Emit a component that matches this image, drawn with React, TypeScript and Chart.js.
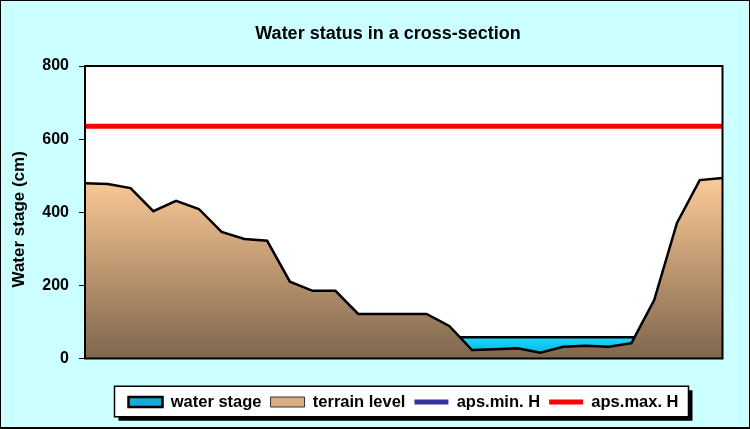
import React, { useEffect, useRef } from 'react';
import { Chart, registerables } from 'chart.js';

Chart.register(...registerables);

// ---- data ----
const stations = ['1', '2', '3', '4', '5', '6', '7', '8', '9', '10', '11', '12', '13', '14', '15',
  '16', '17', '18', '19', '20', '21', '22', '23', '24', '25', '26', '27', '28', '29'];
const terrainLevel = [479, 477, 466, 403, 431, 409, 346, 327, 322, 210, 185, 185, 122, 122, 122,
  122, 89, 23, 25, 28, 16, 32, 35, 32, 42, 160, 371, 488, 494];
const waterStage = [58, 58, 58, 58, 58, 58, 58, 58, 58, 58, 58, 58, 58, 58, 58,
  58, 58, 58, 58, 58, 58, 58, 58, 58, 58, 58, 58, 58, 58];
const apsMinH: (number | null)[] = [];
const apsMaxH = [635, 635, 635, 635, 635, 635, 635, 635, 635, 635, 635, 635, 635, 635, 635,
  635, 635, 635, 635, 635, 635, 635, 635, 635, 635, 635, 635, 635, 635];
const yTicks = [0, 200, 400, 600, 800];
const seriesLabels = ['water stage', 'terrain level', 'aps.min. H', 'aps.max. H'];
const chartTitle = 'Water status in a cross-section';
const yTitle = 'Water stage (cm)';

// ---- styles ----
const FONT = "Arial, 'Liberation Sans', Helvetica, sans-serif";
const legendFill = ['#1AA8D8', '#D9AE84', '#333399', '#FF0000'];
const legendStroke = ['#000000', '#333333', '#333399', '#FF0000'];
const legendLineWidth = [2.5, 1, 5, 5];
const legendPointStyle = ['rect', 'rect', 'line', 'line'];
const TITLE_CENTER = 388;
const LEGEND_CENTER = 403.5;

function gradientFill(chart: any, topValue: number, topColor: string, midColor: string, bottomColor: string) {
  const area = chart.chartArea;
  const ys = chart.scales && chart.scales.y;
  if (!area || !ys) return topColor;
  const g = chart.ctx.createLinearGradient(0, ys.getPixelForValue(topValue), 0, ys.getPixelForValue(0));
  g.addColorStop(0, topColor);
  g.addColorStop(0.45, midColor);
  g.addColorStop(1, bottomColor);
  return g;
}

const decor = {
  id: 'decor',
  beforeDraw(chart: any) {
    const { ctx, width, height, chartArea, legend, titleBlock } = chart;
    ctx.save();
    ctx.fillStyle = '#CCFFFF';
    ctx.fillRect(0, 0, width, height);
    ctx.fillStyle = '#FFFFFF';
    ctx.fillRect(chartArea.left, chartArea.top, chartArea.right - chartArea.left, chartArea.bottom - chartArea.top);
    if (titleBlock) {
      titleBlock.left = TITLE_CENTER - 370;
      titleBlock.right = TITLE_CENTER + 370;
      titleBlock.width = 740;
    }
    if (legend && legend.lineWidths) {
      const pad = legend.options.labels.padding;
      legend.left = LEGEND_CENTER - 360;
      legend.right = LEGEND_CENTER + 360;
      legend.width = 720;
      const rowW = legend.lineWidths[0] - pad;
      const x0 = LEGEND_CENTER - rowW / 2 - 14;
      const x1 = LEGEND_CENTER + rowW / 2 + 10;
      const y0 = legend.top + 1.5;
      const y1 = legend.bottom - 3.5;
      ctx.fillStyle = '#000000';
      ctx.fillRect(x0 + 4, y0 + 4, x1 - x0, y1 - y0);
      ctx.fillStyle = '#FFFFFF';
      ctx.fillRect(x0, y0, x1 - x0, y1 - y0);
      ctx.strokeStyle = '#000000';
      ctx.lineWidth = 1.5;
      ctx.strokeRect(x0, y0, x1 - x0, y1 - y0);
    }
    ctx.restore();
  },
  afterDraw(chart: any) {
    const { ctx, width, height, chartArea } = chart;
    ctx.save();
    ctx.strokeStyle = '#000000';
    ctx.lineWidth = 2;
    ctx.strokeRect(chartArea.left, chartArea.top, chartArea.right - chartArea.left, chartArea.bottom - chartArea.top);
    ctx.lineWidth = 1;
    ctx.strokeRect(0.5, 0.5, width - 1, height - 1);
    ctx.beginPath();
    ctx.moveTo(0, height - 1.5);
    ctx.lineTo(width, height - 1.5);
    ctx.stroke();
    ctx.restore();
  },
};

export default function App() {
  const canvasRef = useRef<HTMLCanvasElement | null>(null);

  useEffect(() => {
    const canvas = canvasRef.current;
    if (!canvas) return;
    const terrainTop = Math.max(...terrainLevel);
    const waterTop = Math.max(...waterStage);
    const chart = new Chart(canvas, {
      type: 'line',
      data: {
        labels: stations,
        datasets: [
          {
            label: seriesLabels[0],
            data: waterStage,
            fill: 'origin',
            backgroundColor: (c: any) => gradientFill(c.chart, waterTop, '#22D8FF', '#10C4F0', '#0A9CCC'),
            borderColor: '#000000',
            borderWidth: 2.5,
            pointRadius: 0,
            pointHoverRadius: 0,
            tension: 0,
            order: 4,
          },
          {
            label: seriesLabels[1],
            data: terrainLevel,
            fill: 'origin',
            backgroundColor: (c: any) => gradientFill(c.chart, terrainTop, '#FBCB98', '#C49C74', '#7E664E'),
            borderColor: '#000000',
            borderWidth: 2.5,
            pointRadius: 0,
            pointHoverRadius: 0,
            tension: 0,
            order: 3,
          },
          {
            label: seriesLabels[2],
            data: apsMinH,
            fill: false,
            borderColor: '#333399',
            borderWidth: 5,
            pointRadius: 0,
            order: 2,
          },
          {
            label: seriesLabels[3],
            data: apsMaxH,
            fill: false,
            borderColor: '#FF0000',
            borderWidth: 5,
            pointRadius: 0,
            order: 1,
          },
        ],
      },
      options: {
        animation: false,
        responsive: false,
        devicePixelRatio: 1,
        layout: { padding: { left: 0, right: 27.5, top: 0, bottom: 8.75 } },
        plugins: {
          tooltip: { enabled: false },
          title: {
            display: true,
            text: chartTitle,
            color: '#000000',
            font: { family: FONT, size: 18, weight: 'bold', lineHeight: 1.2 },
            padding: { top: 23, bottom: 21.4 },
          },
          legend: {
            display: true,
            position: 'bottom',
            labels: {
              usePointStyle: true,
              pointStyleWidth: 34,
              boxHeight: 10,
              padding: 9,
              color: '#000000',
              font: { family: FONT, size: 16.5, weight: 'bold' },
              generateLabels: (ch: any) =>
                ch.data.datasets.map((ds: any, i: number) => ({
                  text: ds.label,
                  fillStyle: legendFill[i],
                  strokeStyle: legendStroke[i],
                  lineWidth: legendLineWidth[i],
                  pointStyle: legendPointStyle[i],
                  hidden: false,
                  datasetIndex: i,
                  fontColor: '#000000',
                })),
            },
          },
        },
        scales: {
          x: {
            type: 'category',
            offset: false,
            display: true,
            ticks: { display: false },
            grid: { display: false },
            border: { display: false },
            afterFit: (s: any) => { s.height = 26.25; },
          },
          y: {
            min: 0,
            max: 800,
            afterBuildTicks: (s: any) => { s.ticks = yTicks.map((v) => ({ value: v })); },
            afterFit: (s: any) => { s.width = 85; },
            ticks: {
              color: '#000000',
              padding: 10,
              font: { family: FONT, size: 16, weight: 'bold' },
            },
            grid: {
              display: true,
              drawOnChartArea: false,
              drawTicks: true,
              tickLength: 6,
              color: '#000000',
              lineWidth: 1,
            },
            border: { display: false },
            title: {
              display: true,
              text: yTitle + '   ',
              color: '#000000',
              font: { family: FONT, size: 17, weight: 'bold', lineHeight: 1.2 },
              padding: { top: 9, bottom: 0 },
            },
          },
        },
      } as any,
      plugins: [decor],
    });
    return () => chart.destroy();
  }, []);

  return (
    <div style={{ position: 'fixed', left: 0, top: 0, width: 750, height: 429 }}>
      <canvas ref={canvasRef} width={750} height={429} style={{ display: 'block', width: 750, height: 429 }} />
    </div>
  );
}
